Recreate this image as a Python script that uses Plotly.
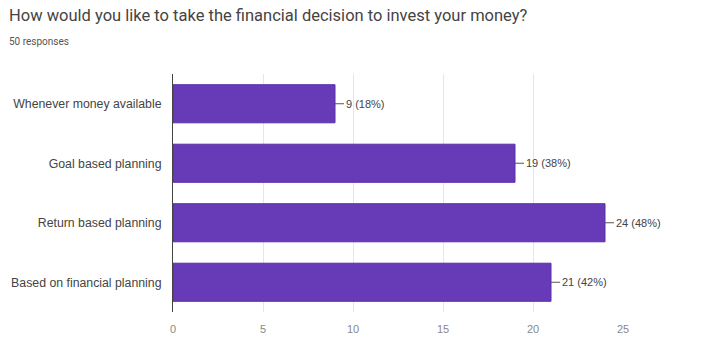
import plotly.graph_objects as go

# Survey answers (top to bottom) and their response counts
categories = [
    "Whenever money available",
    "Goal based planning",
    "Return based planning",
    "Based on financial planning",
]
counts = [9, 19, 24, 21]
total_responses = 50
x_ticks = [0, 5, 10, 15, 20, 25]

labels = [f"{c} ({round(c * 100 / total_responses)}%)" for c in counts]

fig = go.Figure(
    go.Bar(
        x=counts,
        y=categories,
        orientation="h",
        marker=dict(color="#673ab7", line=dict(color="#5a2fa8", width=1)),
        width=0.64,
        hoverinfo="skip",
    )
)

# Value labels attached to the bar ends by a short leader line
for c, cat, lab in zip(counts, categories, labels):
    fig.add_annotation(
        x=c, y=cat, xref="x", yref="y",
        text=lab, showarrow=True, arrowhead=0, arrowwidth=1,
        arrowcolor="#555", ax=9, ay=0, xanchor="left",
        font=dict(family="Liberation Sans, Arial", size=11, color="#444"),
    )

fig.add_annotation(
    text="How would you like to take the financial decision to invest your money?",
    xref="paper", yref="paper", x=0, y=1, xanchor="left", yanchor="top",
    xshift=-166, yshift=70, showarrow=False,
    font=dict(family="Roboto", size=16.5, color="#444"),
)
fig.add_annotation(
    text="50 responses",
    xref="paper", yref="paper", x=0, y=1, xanchor="left", yanchor="top",
    xshift=-166, yshift=40, showarrow=False,
    font=dict(family="Roboto", size=10, color="#555"),
)

fig.update_layout(
    width=707, height=338,
    margin=dict(l=173, r=84, t=74, b=26),
    paper_bgcolor="white", plot_bgcolor="white",
    showlegend=False,
    xaxis=dict(
        range=[0, 25], tickvals=x_ticks, showgrid=True, gridcolor="#e6e6e6",
        zeroline=False, showline=False, automargin=False,
        ticks="outside", ticklen=7, tickcolor="rgba(0,0,0,0)",
        tickfont=dict(family="Liberation Sans, Arial", size=11, color="#888"),
    ),
    yaxis=dict(
        categoryorder="array", categoryarray=categories[::-1],
        showline=True, linecolor="#444", linewidth=1, showgrid=False,
        automargin=False,
        ticks="outside", ticklen=8, tickcolor="rgba(0,0,0,0)",
        tickfont=dict(family="Liberation Sans, Arial", size=12.3, color="#444"),
    ),
)

fig.write_html("out.html")
